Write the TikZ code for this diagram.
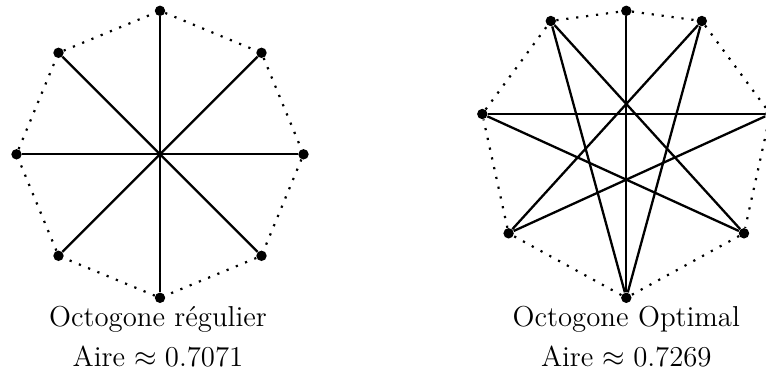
\documentclass[tikz,border=0pt]{standalone}
\usepackage{amsmath,amssymb}
\usepackage{tikz}
\tikzset{vtx/.style={circle, fill, inner sep=0pt, minimum size=5.2pt},
  diag/.style={line width=1.15pt},
  rim/.style={line width=1.1pt, dash pattern=on 1.1pt off 3.9pt},
  caption/.style={anchor=base, inner sep=0pt, font=\fontsize{14.4}{20}\selectfont}}

\begin{document}
\begin{tikzpicture}[x=0.5pt, y=-0.5pt]
\useasboundingbox (0,0) rectangle (766,376);
\node[vtx] (lt) at (160,10.8) {};
\node[vtx] (ltr) at (261.5,52.8) {};
\node[vtx] (lr) at (303.5,154.3) {};
\node[vtx] (lbr) at (261.5,255.8) {};
\node[vtx] (lb) at (160,297.8) {};
\node[vtx] (lbl) at (58.5,255.8) {};
\node[vtx] (ll) at (16.5,154.3) {};
\node[vtx] (ltl) at (58.5,52.8) {};
\draw[rim] (lt) -- (ltr) -- (lr) -- (lbr) -- (lb) -- (lbl) -- (ll) -- (ltl) -- (lt);
\draw[diag] (lt) -- (lb);
\draw[diag] (ltr) -- (lbl);
\draw[diag] (lr) -- (ll);
\draw[diag] (lbr) -- (ltl);
\node[caption] (lname) at (158,326) {Octogone régulier};
\node[caption] (larea) at (158,366) {Aire $\approx 0.7071$};
\node[vtx] (rt) at (626.3,10.8) {};
\node[vtx] (rtr) at (701.8,21) {};
\node[vtx] (rr) at (770.3,114) {};
\node[vtx] (rbr) at (744,233.3) {};
\node[vtx] (rb) at (626.3,297.8) {};
\node[vtx] (rbl) at (508.6,233.3) {};
\node[vtx] (rl) at (482.3,114) {};
\node[vtx] (rtl) at (550.8,21) {};
\draw[rim] (rt) -- (rtr) -- (rr) -- (rbr) -- (rb) -- (rbl) -- (rl) -- (rtl) -- (rt);
\draw[diag] (rt) -- (rb);
\draw[diag] (rtl) -- (rb);
\draw[diag] (rtr) -- (rb);
\draw[diag] (rtl) -- (rbr);
\draw[diag] (rtr) -- (rbl);
\draw[diag] (rl) -- (rr);
\draw[diag] (rl) -- (rbr);
\draw[diag] (rbl) -- (rr);
\node[caption] (rname) at (626.3,326) {Octogone Optimal};
\node[caption] (rarea) at (626.3,366) {Aire $\approx 0.7269$};
\end{tikzpicture}
\end{document}
